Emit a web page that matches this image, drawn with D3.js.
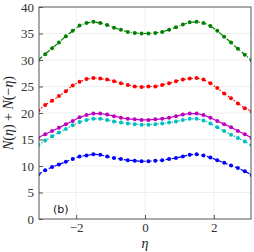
<!DOCTYPE html>
<html>
<head>
<meta charset="utf-8">
<script src="https://cdn.jsdelivr.net/npm/d3@7"></script>
<style>
  body { margin: 0; background: #fff; }
  svg { display: block; }
</style>
</head>
<body>
<div id="chart"></div>
<script>
// eta sample points
const etaVals = [-3.1, -2.9, -2.7, -2.5, -2.3, -2.1, -1.9, -1.7, -1.5, -1.3, -1.1, -0.9, -0.7, -0.5, -0.3, -0.1,
  0.1, 0.3, 0.5, 0.7, 0.9, 1.1, 1.3, 1.5, 1.7, 1.9, 2.1, 2.3, 2.5, 2.7, 2.9, 3.1];

const greenVals = [30.0, 31.1, 32.2, 33.3, 34.5, 35.5, 36.5, 37.0, 37.2, 37.0, 36.6, 36.1, 35.7, 35.3, 35.1, 35.0,
  35.0, 35.1, 35.3, 35.7, 36.2, 36.7, 37.1, 37.2, 37.0, 36.4, 35.5, 34.4, 33.3, 32.1, 31.0, 29.9];
const redVals = [20.5, 21.5, 22.3, 23.2, 24.1, 25.2, 25.9, 26.4, 26.6, 26.5, 26.3, 26.0, 25.6, 25.3, 25.0, 24.9,
  25.0, 25.0, 25.3, 25.6, 26.0, 26.3, 26.5, 26.6, 26.3, 25.6, 24.7, 23.7, 22.8, 21.8, 20.9, 20.3];
const magentaVals = [15.4, 16.0, 16.6, 17.2, 17.9, 18.5, 19.2, 19.6, 19.9, 19.9, 19.7, 19.4, 19.1, 18.9, 18.8, 18.7,
  18.7, 18.8, 18.9, 19.1, 19.4, 19.7, 19.9, 19.9, 19.6, 19.1, 18.5, 17.9, 17.3, 16.6, 16.0, 15.3];
const cyanVals = [14.0, 14.8, 15.6, 16.3, 17.0, 17.7, 18.3, 18.7, 18.9, 18.9, 18.7, 18.4, 18.2, 18.0, 17.9, 17.8,
  17.8, 17.9, 18.0, 18.2, 18.4, 18.7, 18.9, 18.9, 18.6, 18.0, 17.3, 16.6, 15.9, 15.3, 14.6, 13.9];
const blueVals = [8.4, 9.2, 9.8, 10.3, 10.8, 11.3, 11.8, 12.0, 12.2, 12.1, 11.8, 11.5, 11.3, 11.1, 11.0, 10.9,
  10.9, 11.0, 11.1, 11.3, 11.5, 11.8, 12.1, 12.2, 12.0, 11.6, 11.1, 10.6, 10.1, 9.6, 9.0, 8.3];

const xTicks = [-2, 0, 2];
const yTicks = [0, 5, 10, 15, 20, 25, 30, 35, 40];

const series = [
  { vals: greenVals, color: '#008000', dash: '5,2,1,2' },
  { vals: redVals, color: '#ff0000', dash: '1.5,2' },
  { vals: magentaVals, color: '#bf00bf', dash: null },
  { vals: cyanVals, color: '#00bfbf', dash: '1.5,2' },
  { vals: blueVals, color: '#0000ff', dash: '4,2' }
];

const width = 254, height = 252;
const m = { left: 39, right: 3, top: 7, bottom: 33 };

const svg = d3.select('#chart').append('svg').attr('width', width).attr('height', height);

const x = d3.scaleLinear().domain([-3.08, 3.08]).range([m.left, width - m.right]);
const y = d3.scaleLinear().domain([0, 40]).range([height - m.bottom, m.top]);

// grid
svg.append('g').selectAll('line').data(xTicks).enter().append('line')
  .attr('x1', d => x(d)).attr('x2', d => x(d)).attr('y1', m.top).attr('y2', height - m.bottom)
  .attr('stroke', '#ebebeb').attr('stroke-width', 0.8);
svg.append('g').selectAll('line').data(yTicks.slice(1, -1)).enter().append('line')
  .attr('x1', m.left).attr('x2', width - m.right).attr('y1', d => y(d)).attr('y2', d => y(d))
  .attr('stroke', '#ebebeb').attr('stroke-width', 0.8);

svg.append('clipPath').attr('id', 'clip').append('rect')
  .attr('x', m.left).attr('y', m.top).attr('width', width - m.left - m.right).attr('height', height - m.top - m.bottom);

const plot = svg.append('g').attr('clip-path', 'url(#clip)');
const line = d3.line().x((d, i) => x(etaVals[i])).y(d => y(d));

series.forEach(s => {
  plot.append('path').attr('d', line(s.vals)).attr('fill', 'none')
    .attr('stroke', s.color).attr('stroke-width', 1.2)
    .attr('stroke-dasharray', s.dash);
  plot.selectAll(null).data(s.vals).enter().append('circle')
    .attr('cx', (d, i) => x(etaVals[i])).attr('cy', d => y(d)).attr('r', 2)
    .attr('fill', s.color);
});

// axes (ticks inward)
const xAxis = d3.axisBottom(x).tickValues(xTicks).tickSizeInner(-4).tickSizeOuter(0).tickPadding(4)
  .tickFormat(d => d < 0 ? '\u2212' + Math.abs(d) : d);
const xMinor = d3.axisBottom(x).tickValues(d3.range(-3, 3.01, 0.5)).tickSizeInner(-2).tickSizeOuter(0).tickFormat('');
const yAxis = d3.axisLeft(y).tickValues(yTicks).tickSizeInner(-4).tickSizeOuter(0).tickPadding(5);
const yMinor = d3.axisLeft(y).tickValues(d3.range(0, 41, 1)).tickSizeInner(-2).tickSizeOuter(0).tickFormat('');

const gx = svg.append('g').attr('transform', `translate(0,${height - m.bottom})`);
gx.call(xMinor);
gx.call(xAxis);
const gy = svg.append('g').attr('transform', `translate(${m.left},0)`);
gy.call(yMinor);
gy.call(yAxis);

svg.selectAll('.domain').remove();
svg.selectAll('.tick line').attr('stroke', '#555');
svg.selectAll('.tick text').attr('font-family', 'Liberation Serif, serif').attr('font-size', 13).attr('fill', '#333');

// frame
svg.append('rect').attr('x', m.left).attr('y', m.top)
  .attr('width', width - m.left - m.right).attr('height', height - m.top - m.bottom)
  .attr('fill', 'none').attr('stroke', '#555').attr('stroke-width', 1);

// labels
svg.append('text').attr('transform', `translate(13,${(m.top + height - m.bottom) / 2}) rotate(-90)`)
  .attr('text-anchor', 'middle').attr('font-family', 'Liberation Serif, serif').attr('font-size', 14)
  .attr('fill', '#222')
  .html('<tspan font-style="italic">N</tspan>(<tspan font-style="italic">η</tspan>) + <tspan font-style="italic">N</tspan>(−<tspan font-style="italic">η</tspan>)');

svg.append('text').attr('x', x(0)).attr('y', 248).attr('text-anchor', 'middle')
  .attr('font-family', 'Liberation Serif, serif').attr('font-style', 'italic').attr('font-size', 14)
  .attr('fill', '#222').text('η');

svg.append('text').attr('x', 53).attr('y', 213)
  .attr('font-family', 'DejaVu Sans, sans-serif').attr('font-size', 11).attr('fill', '#111').text('(b)');
</script>
</body>
</html>
